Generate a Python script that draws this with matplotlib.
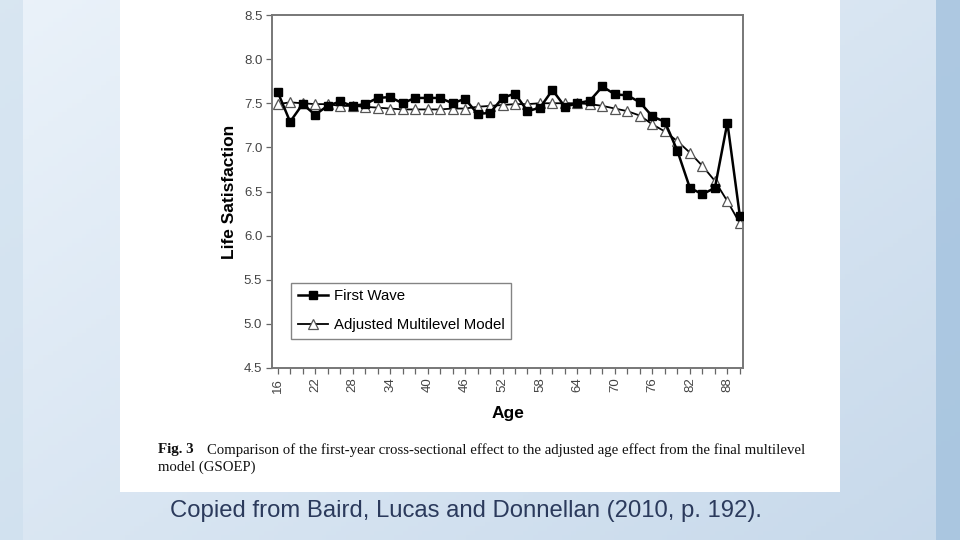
import numpy as np
import matplotlib
matplotlib.use("Agg")
import matplotlib.pyplot as plt
from matplotlib.patches import Rectangle

ages = list(range(16, 91, 2))
first_wave = [7.63, 7.29, 7.49, 7.37, 7.47, 7.52, 7.47, 7.49, 7.56, 7.57,
              7.50, 7.56, 7.56, 7.56, 7.50, 7.55, 7.38, 7.39, 7.56, 7.61,
              7.41, 7.45, 7.65, 7.46, 7.50, 7.53, 7.69, 7.60, 7.59, 7.51,
              7.35, 7.29, 6.96, 6.54, 6.47, 6.54, 7.28, 6.22]
adjusted = [7.49, 7.51, 7.50, 7.49, 7.49, 7.47, 7.47, 7.46, 7.45, 7.44,
            7.43, 7.43, 7.43, 7.43, 7.44, 7.44, 7.46, 7.47, 7.48, 7.49,
            7.49, 7.50, 7.50, 7.50, 7.50, 7.49, 7.47, 7.44, 7.41, 7.36,
            7.26, 7.18, 7.07, 6.94, 6.79, 6.62, 6.39, 6.14]
xtick_labels = [16, 22, 28, 34, 40, 46, 52, 58, 64, 70, 76, 82, 88]
yticks = [4.5, 5.0, 5.5, 6.0, 6.5, 7.0, 7.5, 8.0, 8.5]

W, H = 960, 540
fig = plt.figure(figsize=(9.6, 5.4), dpi=100)

# slide background gradient
bg = fig.add_axes([0, 0, 1, 1])
bg.set_axis_off()
gx, gy = np.meshgrid(np.linspace(0, 1, 200), np.linspace(0, 1, 120))
t = np.clip(0.55 * gx + 0.45 * gy, 0, 1)
c0 = np.array([0.92, 0.95, 0.98])
c1 = np.array([0.78, 0.85, 0.92])
img = c0[None, None, :] * (1 - t[..., None]) + c1[None, None, :] * t[..., None]
bg.imshow(img, extent=[0, W, 0, H], origin="upper", aspect="auto")
bg.add_patch(Rectangle((0, 0), 23, H, color=(0.80, 0.87, 0.93), alpha=0.6, lw=0))
bg.add_patch(Rectangle((936, 0), 24, H, color=(0.64, 0.76, 0.87), alpha=0.8, lw=0))
bg.add_patch(Rectangle((120, H - 492), 720, 492, color="white", lw=0))
bg.set_xlim(0, W)
bg.set_ylim(0, H)

ax = fig.add_axes([272 / W, (H - 368) / H, 471 / W, 353 / H])
ax.set_facecolor("white")
ax.plot(ages, first_wave, color="black", lw=1.8, marker="s", ms=6,
        mfc="black", mec="black", label="First Wave", zorder=3)
ax.plot(ages, adjusted, color="black", lw=1.3, marker="^", ms=6.5,
        mfc="white", mec="#555555", mew=0.9, label="Adjusted Multilevel Model", zorder=2)

ax.set_xlim(15.1, 90.5)
ax.set_ylim(4.5, 8.5)
ax.set_xticks(ages)
ax.set_xticklabels([str(a) if a in xtick_labels else "" for a in ages],
                   rotation=90, fontsize=9.5, color="#444444", family="Liberation Sans")
ax.set_yticks(yticks)
ax.set_yticklabels([f"{v:.1f}" for v in yticks], fontsize=9.5, color="#444444",
                   family="Liberation Sans")
ax.tick_params(axis="both", direction="out", length=4, width=0.9, color="#666666", pad=3)
for s in ax.spines.values():
    s.set_color("#777777")
    s.set_linewidth(1.4)

ax.set_xlabel("Age", fontsize=12.5, fontweight="bold", family="Liberation Sans",
              labelpad=10)
ax.set_ylabel("Life Satisfaction", fontsize=12.5, fontweight="bold",
              family="Liberation Sans", labelpad=5)

leg = ax.legend(loc="lower left", bbox_to_anchor=((291 - 272) / 471, (368 - 339) / 353),
                borderaxespad=0, frameon=True, fancybox=False,
                prop={"family": "Liberation Sans", "size": 10.8},
                handlelength=2.0, borderpad=0.45, labelspacing=1.0, handletextpad=0.4)
leg.get_frame().set_edgecolor("#666666")
leg.get_frame().set_linewidth(1.0)

fig.text(158 / W, 1 - 450 / H, "Fig. 3", fontsize=10.8, family="Liberation Serif",
         fontweight="bold", va="center", ha="left", color="#111111")
fig.text(207 / W, 1 - 450 / H,
         "Comparison of the first-year cross-sectional effect to the adjusted age effect from the final multilevel",
         fontsize=10.6, family="Liberation Serif", va="center", ha="left", color="#111111")
fig.text(158 / W, 1 - 467 / H, "model (GSOEP)", fontsize=10.6, family="Liberation Serif",
         va="center", ha="left", color="#111111")

fig.text(170 / W, 1 - 511 / H, "Copied from Baird, Lucas and Donnellan (2010, p. 192).",
         fontsize=17.2, family="Liberation Sans", va="center", ha="left", color="#2b3a5c")

fig.savefig("out.png", dpi=100)
